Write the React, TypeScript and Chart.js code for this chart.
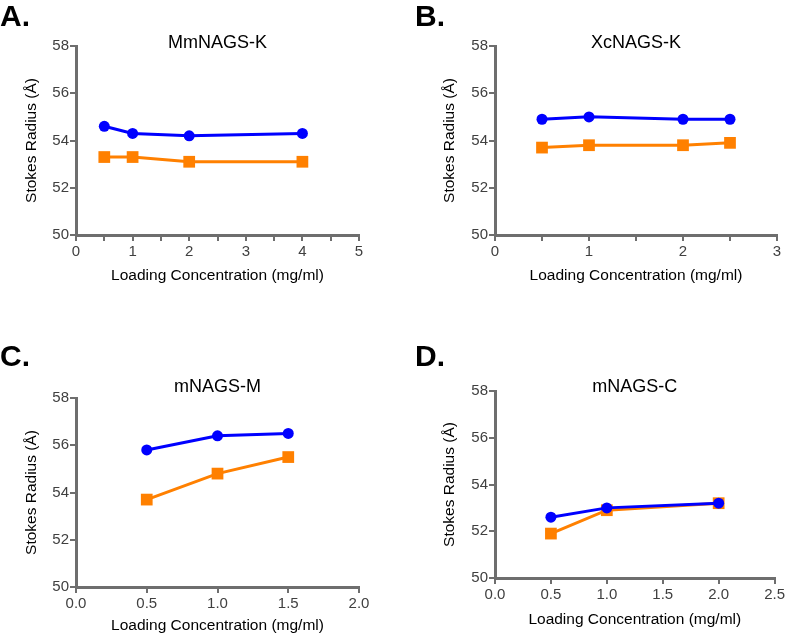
import React, { useEffect, useRef } from "react";
import { Chart, registerables } from "chart.js";

Chart.register(...registerables);

const FONT = '"Liberation Sans", Arial, Helvetica, sans-serif';
const AXIS_GRAY = "#6e6e6e";
const TICK_TEXT = "#404040";
const BLUE = "#0000ff";
const ORANGE = "#ff8000";

// Panel A: MmNAGS-K
const xA = [0.5, 1, 2, 4];
const blueA = [54.6, 54.3, 54.2, 54.3];
const orangeA = [53.3, 53.3, 53.1, 53.1];

// Panel B: XcNAGS-K
const xB = [0.5, 1, 2, 2.5];
const blueB = [54.9, 55.0, 54.9, 54.9];
const orangeB = [53.7, 53.8, 53.8, 53.9];

// Panel C: mNAGS-M
const xC = [0.5, 1, 1.5];
const blueC = [55.8, 56.4, 56.5];
const orangeC = [53.7, 54.8, 55.5];

// Panel D: mNAGS-C
const xD = [0.5, 1, 2];
const blueD = [52.6, 53.0, 53.2];
const orangeD = [51.9, 52.9, 53.2];

const yTicks = [50, 52, 54, 56, 58];
const yTitle = "Stokes Radius (Å)";
const xTitle = "Loading Concentration (mg/ml)";

const W = 787;
const H = 635;

type Panel = {
  letter: string;
  title: string;
  xs: number[];
  blue: number[];
  orange: number[];
  xMax: number;
  intLabels: boolean;
  area: { l: number; t: number; r: number; b: number };
  letterX: number;
  letterY: number;
  titleY: number;
  yTitleX: number;
  xTitleY: number;
};

const panels: Panel[] = [
  {
    letter: "A.", title: "MmNAGS-K", xs: xA, blue: blueA, orange: orangeA, xMax: 5, intLabels: true,
    area: { l: 76, t: 46, r: 359, b: 235 }, letterX: 0, letterY: 26, titleY: 48, yTitleX: 32, xTitleY: 276,
  },
  {
    letter: "B.", title: "XcNAGS-K", xs: xB, blue: blueB, orange: orangeB, xMax: 3, intLabels: true,
    area: { l: 495, t: 46, r: 777, b: 235 }, letterX: 415, letterY: 26, titleY: 48, yTitleX: 450, xTitleY: 276,
  },
  {
    letter: "C.", title: "mNAGS-M", xs: xC, blue: blueC, orange: orangeC, xMax: 2, intLabels: false,
    area: { l: 76, t: 398, r: 359, b: 587 }, letterX: 0, letterY: 366, titleY: 392, yTitleX: 32, xTitleY: 626,
  },
  {
    letter: "D.", title: "mNAGS-C", xs: xD, blue: blueD, orange: orangeD, xMax: 2.5, intLabels: false,
    area: { l: 495, t: 391, r: 777, b: 578 }, letterX: 415, letterY: 366, titleY: 392, yTitleX: 450, xTitleY: 620,
  },
];

const textPlugin = {
  id: "panelText",
  afterDraw(chart: any, _args: any, opts: any) {
    const ctx = chart.ctx;
    const ca = chart.chartArea;
    ctx.save();
    ctx.fillStyle = "#000";
    ctx.textBaseline = "alphabetic";
    ctx.textAlign = "left";
    ctx.font = `bold 30px ${FONT}`;
    ctx.fillText(opts.letter, opts.letterX, opts.letterY);
    ctx.textAlign = "center";
    ctx.font = `18px ${FONT}`;
    ctx.fillText(opts.title, (ca.left + ca.right) / 2, opts.titleY);
    ctx.restore();
  },
};

function PanelChart({ p }: { p: Panel }) {
  const ref = useRef<HTMLCanvasElement | null>(null);
  useEffect(() => {
    if (!ref.current) return;
    const titleSize = 15.5;
    const titleLH = titleSize * 1.2;
    const chart = new Chart(ref.current, {
      type: "line",
      data: {
        datasets: [
          {
            data: p.xs.map((x, i) => ({ x, y: p.blue[i] })),
            borderColor: BLUE,
            backgroundColor: BLUE,
            borderWidth: 3,
            pointStyle: "circle",
            pointRadius: 5.5,
            pointBorderWidth: 0,
            pointBackgroundColor: BLUE,
            clip: false,
          },
          {
            data: p.xs.map((x, i) => ({ x, y: p.orange[i] })),
            borderColor: ORANGE,
            backgroundColor: ORANGE,
            borderWidth: 3,
            pointStyle: "rect",
            pointRadius: 8.3,
            pointBorderWidth: 0,
            pointBackgroundColor: ORANGE,
            clip: false,
          },
        ],
      },
      plugins: [textPlugin],
      options: {
        animation: false,
        responsive: false,
        events: [],
        layout: {
          padding: { left: 0, top: p.area.t, right: W - p.area.r, bottom: 0 },
        },
        plugins: {
          legend: { display: false },
          tooltip: { enabled: false },
          panelText: {
            letter: p.letter, letterX: p.letterX, letterY: p.letterY,
            title: p.title, titleY: p.titleY,
          },
        } as any,
        scales: {
          x: {
            type: "linear",
            min: 0,
            max: p.xMax,
            afterFit: (s: any) => { s.height = H - p.area.b; },
            afterBuildTicks: (s: any) => {
              const t = [];
              for (let v = 0; v <= p.xMax + 1e-9; v += 0.5) t.push({ value: Math.round(v * 10) / 10 });
              s.ticks = t;
            },
            ticks: {
              autoSkip: false,
              maxRotation: 0,
              padding: 2,
              color: TICK_TEXT,
              font: { size: 15, family: FONT },
              callback: (v: any) => {
                const n = Number(v);
                if (p.intLabels) return Number.isInteger(n) ? String(n) : "";
                return n.toFixed(1);
              },
            },
            grid: {
              drawOnChartArea: false,
              drawTicks: true,
              tickLength: 6,
              color: AXIS_GRAY,
              lineWidth: 2,
            },
            border: { display: true, color: AXIS_GRAY, width: 3 },
            title: {
              display: true,
              text: xTitle,
              color: "#000",
              font: { size: titleSize, family: FONT },
              padding: { top: 0, bottom: H - p.xTitleY - titleLH / 2 },
            },
          },
          y: {
            type: "linear",
            min: 50,
            max: 58,
            afterFit: (s: any) => { s.width = p.area.l; },
            afterBuildTicks: (s: any) => {
              s.ticks = yTicks.map((v) => ({ value: v }));
            },
            ticks: {
              autoSkip: false,
              padding: 1,
              color: TICK_TEXT,
              font: { size: 15, family: FONT },
              callback: (v: any) => String(v),
            },
            grid: {
              drawOnChartArea: false,
              drawTicks: true,
              tickLength: 6,
              color: AXIS_GRAY,
              lineWidth: 2,
            },
            border: { display: true, color: AXIS_GRAY, width: 3 },
            title: {
              display: true,
              text: yTitle,
              color: "#000",
              font: { size: titleSize, family: FONT },
              padding: { top: p.yTitleX - titleLH / 2, bottom: 0 },
            },
          },
        },
      } as any,
    });
    return () => chart.destroy();
  }, [p]);
  return (
    <canvas
      ref={ref}
      width={W}
      height={H}
      style={{ position: "absolute", left: 0, top: 0, width: W, height: H }}
    />
  );
}

export default function App() {
  return (
    <div style={{ position: "absolute", left: 0, top: 0, width: W, height: H, background: "#fff" }}>
      {panels.map((p) => (
        <PanelChart key={p.letter} p={p} />
      ))}
    </div>
  );
}
